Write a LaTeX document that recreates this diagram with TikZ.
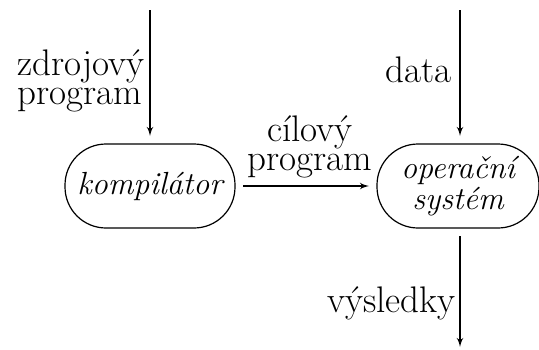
\documentclass[tikz,border=0pt]{standalone}
\usetikzlibrary{arrows}
\tikzset{
    proc/.style={rectangle,rounded corners=20.5pt,draw,line width=0.6pt,minimum width=85pt,minimum height=42pt,outer sep=4pt,font=\fontsize{16}{12.5}\selectfont\itshape,align=center},
    flow/.style={->,> = latex', line width=0.6pt},
    lbl/.style={inner sep=0pt,align=center},
}

\begin{document}
\begin{tikzpicture}[x=0.5pt,y=-0.5pt]
    \fontsize{18.5}{14.5}\selectfont
    \useasboundingbox (0,0) rectangle (539,349);
    \node[proc] (komp) at (150,186) {kompilátor};
    \node[proc,minimum width=81pt] (os) at (458,186) {operační\\systém};
    \coordinate (srcin) at (150,10);
    \coordinate (datain) at (460,10);
    \coordinate (out) at (460,347);
    \node[lbl,anchor=east,align=left] (zdroj) at (145,81) {zdrojový\\program};
    \node[lbl,anchor=south] (cil) at (310,178) {cílový\\program};
    \node[lbl,anchor=base east] (dat) at (452,82) {data};
    \node[lbl,anchor=base east] (vys) at (456,312) {výsledky};
    \draw[flow] (srcin) -- (komp);
    \draw[flow] (komp) -- (os);
    \draw[flow] (datain) -- (datain |- os.north);
    \draw[flow] (os.south -| out) -- (out);
\end{tikzpicture}
\end{document}
